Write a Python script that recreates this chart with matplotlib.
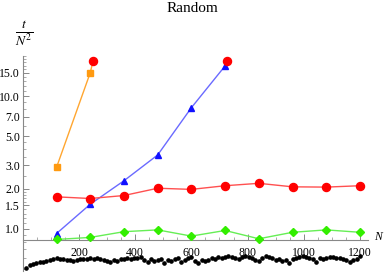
import numpy as np
import matplotlib
matplotlib.use("Agg")
import matplotlib.pyplot as plt
from matplotlib.ticker import FixedLocator, FixedFormatter

plt.rcParams['font.family'] = ['Liberation Serif', 'DejaVu Serif']
plt.rcParams['mathtext.fontset'] = 'stix'

# series
n_coarse = [120, 240, 360, 480, 600, 720, 840, 960, 1080, 1200]
red_vals = [1.74, 1.69, 1.78, 2.02, 1.98, 2.11, 2.20, 2.07, 2.06, 2.11]
green_vals = [0.83, 0.86, 0.95, 0.98, 0.88, 0.97, 0.84, 0.94, 0.98, 0.94]
orange_n = [120, 240]
orange_vals = [2.90, 15.0]
blue_n = [120, 240, 360, 480, 600, 720]
blue_vals = [0.92, 1.53, 2.30, 3.60, 8.18, 16.9]
# timeout markers at the end of the orange and blue runs
stop_n = [250, 725]
stop_vals = [18.4, 18.4]

black_n = list(range(12, 1201, 12))
black_vals = [
    0.51, 0.53, 0.54, 0.55, 0.56, 0.56, 0.57, 0.58, 0.59, 0.60,
    0.59, 0.59, 0.58, 0.58, 0.57, 0.58, 0.59, 0.59, 0.59, 0.60,
    0.59, 0.60, 0.59, 0.58, 0.57, 0.56, 0.58, 0.57, 0.59, 0.59,
    0.60, 0.59, 0.60, 0.60, 0.61, 0.58, 0.56, 0.59, 0.57, 0.58,
    0.59, 0.55, 0.58, 0.57, 0.59, 0.60, 0.56, 0.58, 0.60, 0.61,
    0.57, 0.55, 0.58, 0.57, 0.58, 0.60, 0.59, 0.61, 0.60, 0.61,
    0.62, 0.61, 0.60, 0.59, 0.61, 0.62, 0.61, 0.60, 0.58, 0.57,
    0.60, 0.62, 0.61, 0.60, 0.58, 0.59, 0.57, 0.58, 0.55, 0.59,
    0.60, 0.61, 0.62, 0.61, 0.60, 0.59, 0.56, 0.60, 0.59, 0.60,
    0.61, 0.61, 0.60, 0.60, 0.59, 0.58, 0.56, 0.58, 0.59, 0.62,
]

y_major = [1.0, 1.5, 2.0, 3.0, 5.0, 7.0, 10.0, 15.0]
x_major = [200, 400, 600, 800, 1000, 1200]

fig = plt.figure(figsize=(3.84, 2.73), dpi=100)
ax = fig.add_axes([22.8 / 384, 2 / 273, 345.6 / 384, 214.8 / 273])
ax.set_yscale('log')
ax.set_xlim(0, 1230)
ax.set_ylim(0.48, 20)

ax.plot(orange_n + [stop_n[0]], orange_vals + [stop_vals[0]], color='#ffa630', lw=1, zorder=2)
ax.plot(orange_n, orange_vals, ls='none', marker='s', ms=4.8, color='#ff9a10', zorder=3)
ax.plot(blue_n + [stop_n[1]], blue_vals + [stop_vals[1]], color='#6a6aff', lw=1, zorder=2)
ax.plot(blue_n, blue_vals, ls='none', marker='^', ms=5, color='#1010ff', zorder=3)
ax.plot(n_coarse, red_vals, color='#ff5050', lw=1, zorder=2)
ax.plot(n_coarse, red_vals, ls='none', marker='o', ms=5.8, color='#ff0000', zorder=3)
ax.plot(stop_n, stop_vals, ls='none', marker='o', ms=5.8, color='#ff0000', zorder=4)
ax.plot(n_coarse, green_vals, color='#66ee55', lw=1, zorder=2)
ax.plot(n_coarse, green_vals, ls='none', marker='D', ms=4.3, color='#33ee00', zorder=3)
ax.plot(black_n, black_vals, ls='none', marker='o', ms=2.3, color='black', zorder=3)

for s in ['top', 'right']:
    ax.spines[s].set_visible(False)
ax.spines['bottom'].set_position(('data', 0.82))
ax.spines['bottom'].set_color('#888888')
ax.spines['left'].set_color('#888888')
ax.spines['bottom'].set_linewidth(0.8)
ax.spines['left'].set_linewidth(0.8)

ax.xaxis.set_major_locator(FixedLocator(x_major))
ax.xaxis.set_minor_locator(FixedLocator([v for v in range(50, 1201, 50) if v % 200]))
ax.yaxis.set_major_locator(FixedLocator(y_major))
ax.yaxis.set_major_formatter(FixedFormatter(['%.1f' % v for v in y_major]))
minor_y = [0.5, 0.6, 0.7, 0.8, 0.9] + [1.1, 1.2, 1.3, 1.4, 1.6, 1.7, 1.8, 1.9] + \
          [2.5, 3.5, 4.0, 4.5] + [6.0, 8.0, 9.0] + [11, 12, 13, 14, 16, 17, 18, 19, 20]
ax.yaxis.set_minor_locator(FixedLocator(minor_y))
ax.yaxis.set_minor_formatter(FixedFormatter([''] * len(minor_y)))

ax.tick_params(axis='both', which='major', direction='in', length=4, width=0.7,
               color='#888888', labelsize=8.5, pad=2)
ax.tick_params(axis='both', which='minor', direction='in', length=2, width=0.5,
               color='#888888')
ax.tick_params(axis='x', pad=5)

fig.text(378 / 384, 1 - 237 / 273, 'N', style='italic', fontsize=8.5, ha='center', va='center')
fig.text(192 / 384, 1 - 9 / 273, 'Random', fontsize=11, ha='center', va='center')
fig.text(24 / 384, 1 - 33 / 273, r'$\frac{t}{N^2}$', fontsize=14, ha='center', va='center')

fig.savefig('out.png', dpi=100)
